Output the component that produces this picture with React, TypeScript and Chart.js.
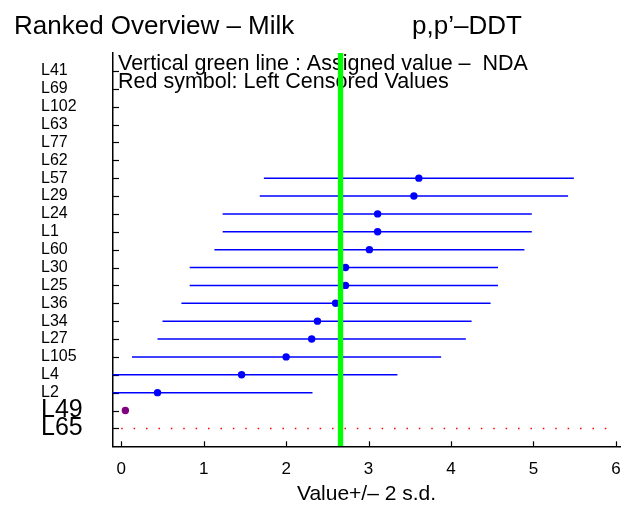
import React, { useEffect, useRef } from "react";
import { Chart, registerables } from "chart.js";

Chart.register(...registerables);

const FAMILY = "'Liberation Sans', Arial, Helvetica, sans-serif";

// Labs from top to bottom
const labs = [
  "L41", "L69", "L102", "L63", "L77", "L62", "L57", "L29", "L24", "L1", "L60",
  "L30", "L25", "L36", "L34", "L27", "L105", "L4", "L2", "L49", "L65",
];
// Reported value (dot) per lab; null = no dot
const values: (number | null)[] = [
  null, null, null, null, null, null, 3.61, 3.55, 3.11, 3.11, 3.01,
  2.72, 2.72, 2.6, 2.38, 2.31, 2.0, 1.46, 0.44, null, null,
];
// Lower end of value - 2 s.d.
const lows: (number | null)[] = [
  null, null, null, null, null, null, 1.73, 1.68, 1.23, 1.23, 1.13,
  0.83, 0.83, 0.73, 0.5, 0.44, 0.13, -0.42, -1.44, null, null,
];
// Upper end of value + 2 s.d.
const highs: (number | null)[] = [
  null, null, null, null, null, null, 5.49, 5.42, 4.98, 4.98, 4.89,
  4.57, 4.57, 4.48, 4.25, 4.18, 3.88, 3.35, 2.32, null, null,
];

const censoredLab = "L49";
const censoredValue = 0.05;
const dottedLab = "L65";
const dottedFrom = 0;
const dottedTo = 6;
const assignedValue = 2.66;
const bigLabels = ["L49", "L65"];

const xTicks = [0, 1, 2, 3, 4, 5, 6];
const xMin = -0.1;
const xMax = 6.05;

const titleLeft = "Ranked Overview – Milk";
const titleRight = "p,p’–DDT";
const legendLines = [
  "Vertical green line : Assigned value –  NDA",
  "Red symbol: Left Censored Values",
];
const xTitle = "Value+/– 2 s.d.";

export default function App() {
  const ref = useRef<HTMLCanvasElement>(null);

  useEffect(() => {
    const canvas = ref.current;
    if (!canvas) return;
    const n = labs.length;
    const yOfIndex = (i: number) => n - i;
    const yOf = (lab: string) => yOfIndex(labs.indexOf(lab));
    const labelFor = (v: number) => {
      const i = n - Math.round(v);
      return i >= 0 && i < n ? labs[i] : "";
    };

    Chart.defaults.font.family = FAMILY;

    const datasets: any[] = [];
    // assigned value: vertical green line
    datasets.push({
      type: "line",
      data: [
        { x: assignedValue, y: 0 },
        { x: assignedValue, y: n + 1 },
      ],
      borderColor: "#00ff00",
      borderWidth: 5.3,
      pointRadius: 0,
      order: 0,
      clip: 0,
    });
    // values
    const pts: any[] = [];
    labs.forEach((_, i) => {
      const v = values[i];
      if (v != null) pts.push({ x: v, y: yOfIndex(i) });
    });
    datasets.push({
      type: "scatter",
      data: pts,
      pointRadius: 3.7,
      pointBackgroundColor: "#0000ff",
      pointBorderWidth: 0,
      showLine: false,
      order: 1,
    });
    // censored value
    datasets.push({
      type: "scatter",
      data: [{ x: censoredValue, y: yOf(censoredLab) }],
      pointRadius: 3.7,
      pointBackgroundColor: "#800080",
      pointBorderWidth: 0,
      showLine: false,
      order: 1,
    });
    // +/- 2 s.d. lines
    labs.forEach((_, i) => {
      const lo = lows[i];
      const hi = highs[i];
      if (lo == null || hi == null) return;
      datasets.push({
        type: "line",
        data: [
          { x: lo, y: yOfIndex(i) },
          { x: hi, y: yOfIndex(i) },
        ],
        borderColor: "#0000ff",
        borderWidth: 1.5,
        pointRadius: 0,
        order: 2,
        clip: 0,
      });
    });
    // dotted red line
    datasets.push({
      type: "line",
      data: [
        { x: dottedFrom, y: yOf(dottedLab) },
        { x: dottedTo, y: yOf(dottedLab) },
      ],
      borderColor: "#ff0000",
      borderWidth: 1.5,
      borderDash: [1.5, 10.9],
      pointRadius: 0,
      order: 2,
    });

    const decor = {
      id: "decor",
      beforeDatasetsDraw(chart: any) {
        const { ctx, chartArea, scales } = chart;
        const x = scales.x;
        const y = scales.y;
        ctx.save();
        ctx.strokeStyle = "#000";
        ctx.lineWidth = 1.2;
        y.ticks.forEach((t: any) => {
          const py = Math.round(y.getPixelForValue(t.value)) + 0.5;
          ctx.beginPath();
          ctx.moveTo(chartArea.left, py);
          ctx.lineTo(chartArea.left + 6, py);
          ctx.stroke();
        });
        x.ticks.forEach((t: any) => {
          const px = Math.round(x.getPixelForValue(t.value)) + 0.5;
          ctx.beginPath();
          ctx.moveTo(px, chartArea.bottom);
          ctx.lineTo(px, chartArea.bottom - 5);
          ctx.stroke();
        });
        ctx.fillStyle = "#000";
        ctx.textAlign = "left";
        ctx.textBaseline = "alphabetic";
        ctx.font = `21.5px ${FAMILY}`;
        legendLines.forEach((s, i) => {
          ctx.fillText(s, chartArea.left + 5, y.getPixelForValue(yOfIndex(i)) - 1);
        });
        ctx.restore();
      },
      afterDraw(chart: any) {
        const { ctx } = chart;
        ctx.save();
        ctx.fillStyle = "#000";
        ctx.textAlign = "left";
        ctx.textBaseline = "alphabetic";
        ctx.font = `26px ${FAMILY}`;
        ctx.fillText(titleLeft, 14, 34);
        ctx.fillText(titleRight, 412, 34);
        ctx.restore();
      },
    };

    const chart = new Chart(canvas, {
      type: "line",
      data: { datasets },
      options: {
        animation: false,
        responsive: false,
        devicePixelRatio: 1,
        layout: { padding: { left: 41, top: 53, right: 2.6, bottom: 0 } },
        plugins: {
          legend: { display: false },
          tooltip: { enabled: false },
          title: { display: false },
        },
        scales: {
          x: {
            type: "linear",
            min: xMin,
            max: xMax,
            grid: { display: false, drawTicks: false },
            border: { display: true, color: "#000", width: 1.5 },
            ticks: {
              color: "#000",
              font: { size: 17 },
              padding: 13,
              maxRotation: 0,
              autoSkip: false,
              callback: (v: any) => String(v),
            },
            title: {
              display: true,
              text: xTitle,
              color: "#000",
              font: { size: 21 },
              padding: { top: 0, bottom: 2 },
            },
            afterBuildTicks: (s: any) => {
              s.ticks = xTicks.map((v) => ({ value: v }));
            },
            afterFit: (s: any) => {
              s.height = 62.7;
              s.paddingLeft = 0;
              s.paddingRight = 0;
            },
          },
          y: {
            type: "linear",
            min: 0,
            max: n + 1,
            grid: { display: false, drawTicks: false },
            border: { display: true, color: "#000", width: 1.5 },
            ticks: {
              color: "#000",
              crossAlign: "far",
              padding: 0,
              autoSkip: false,
              font: (c: any) => ({
                size: c.tick && bigLabels.includes(labelFor(c.tick.value)) ? 25 : 16,
              }),
              callback: (v: any) => labelFor(Number(v)),
            },
            afterBuildTicks: (s: any) => {
              s.ticks = labs.map((_, i) => ({ value: yOfIndex(i) })).reverse();
            },
            afterFit: (s: any) => {
              s.width = 72;
              s.paddingTop = 0;
              s.paddingBottom = 0;
            },
          },
        },
      } as any,
      plugins: [decor],
    });

    return () => chart.destroy();
  }, []);

  return (
    <div
      style={{
        position: "fixed",
        left: 0,
        top: 0,
        width: 624,
        height: 509,
        background: "#fff",
      }}
    >
      <canvas ref={ref} width={624} height={509} style={{ display: "block" }} />
    </div>
  );
}
